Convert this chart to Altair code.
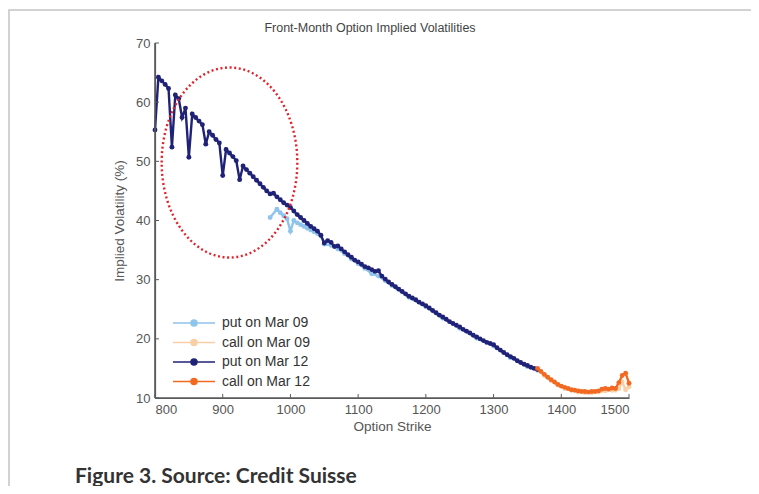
import altair as alt
import pandas as pd

# ---------------- data ----------------
put12_strike = list(range(800, 1370, 5))
put12_vol = [
    55.3, 64.2, 63.6, 63.0, 62.3, 52.4, 61.2, 60.6, 57.4, 59.0,
    50.7, 58.0, 57.4, 56.8, 56.2, 52.9, 55.0, 54.4, 53.7, 53.1,
    47.6, 52.0, 51.4, 50.8, 50.1, 46.9, 49.2, 48.6, 48.0, 47.4,
    46.8, 46.2, 45.6, 45.0, 44.5, 44.6, 44.0, 43.5, 43.0, 42.6,
    42.2, 41.6, 41.0, 40.5, 40.0, 39.5, 39.0, 38.6, 38.2, 37.5,
    36.2, 36.6, 36.3, 35.6, 35.7, 35.2, 34.7, 34.2, 33.8, 33.3,
    33.0, 32.6, 32.2, 32.0, 31.7, 31.4, 31.5, 30.6, 30.1, 29.6,
    29.2, 28.8, 28.4, 28.0, 27.6, 27.2, 26.9, 26.6, 26.2, 25.9,
    25.6, 25.2, 24.8, 24.4, 24.0, 23.7, 23.3, 22.9, 22.6, 22.3,
    22.0, 21.6, 21.3, 21.0, 20.6, 20.3, 20.0, 19.7, 19.4, 19.2,
    19.0, 18.5, 18.1, 17.7, 17.3, 17.0, 16.7, 16.3, 16.0, 15.7,
    15.5, 15.2, 15.0, 14.8,
]

call12_strike = list(range(1365, 1505, 5))
call12_vol = [
    15.0, 14.5, 14.0, 13.5, 13.1, 12.7, 12.3, 12.0, 11.8, 11.6,
    11.4, 11.3, 11.2, 11.1, 11.1, 11.0, 11.1, 11.1, 11.2, 11.5,
    11.6, 11.5, 11.7, 11.6, 12.6, 13.8, 14.2, 12.5,
]

put09_strike = [970, 980, 985, 990, 995, 1000, 1005, 1010, 1015, 1020,
                1025, 1030, 1035, 1040, 1045, 1050, 1060, 1070, 1080, 1090,
                1100, 1110, 1120, 1130, 1140, 1150, 1175, 1200, 1225, 1250,
                1275, 1300, 1325, 1350, 1365]
put09_vol = [40.5, 41.9, 41.3, 40.8, 40.3, 38.2, 40.0, 39.6, 39.3, 39.0,
             38.7, 38.4, 38.1, 37.8, 37.4, 36.0, 35.8, 35.2, 34.4, 33.5,
             32.7, 31.9, 31.0, 30.6, 29.8, 29.0, 27.0, 25.4, 23.5, 21.8,
             20.1, 18.8, 16.8, 15.3, 14.7]

call09_strike = [1365, 1375, 1385, 1395, 1405, 1415, 1425, 1435, 1445, 1455,
                 1465, 1475, 1480, 1485, 1490, 1495, 1500]
call09_vol = [14.8, 13.8, 12.9, 12.2, 11.6, 11.3, 11.0, 10.9, 10.9, 11.0,
              11.2, 11.3, 11.3, 11.6, 12.7, 11.4, 11.9]

series_names = ["put on Mar 09", "call on Mar 09", "put on Mar 12", "call on Mar 12"]
series_colors = ["#8fc4ec", "#f8cfa6", "#1f2277", "#f26a22"]

x_domain = [800, 1500]
y_domain = [10, 70]
x_ticks = [800, 900, 1000, 1100, 1200, 1300, 1400, 1500]
y_ticks = [10, 20, 30, 40, 50, 60, 70]

ellipse_strike = [910]
ellipse_vol = [49.8]

title_text = ["Front-Month Option Implied Volatilities"]
caption_text = ["Figure 3. Source: Credit Suisse"]

# ---------------- build tables ----------------
def frame(name, xs, ys):
    return pd.DataFrame({"strike": xs, "vol": ys, "series": name})

tables = [
    frame(series_names[0], put09_strike, put09_vol),
    frame(series_names[1], call09_strike, call09_vol),
    frame(series_names[2], put12_strike, put12_vol),
    frame(series_names[3], call12_strike, call12_vol),
]

FONT = "Liberation Sans"
TXT = "#444444"
AXC = "#5a5a5a"

x_scale = alt.Scale(domain=x_domain, nice=False, zero=False)
y_scale = alt.Scale(domain=y_domain, nice=False, zero=False)
color_scale = alt.Scale(domain=series_names, range=series_colors)

X_AXIS = alt.Axis(title="Option Strike", values=x_ticks, format="d", tickSize=0,
                  labelPadding=5, titlePadding=3, domain=True)
Y_AXIS = alt.Axis(title="Implied Volatility (%)", values=y_ticks, format="d",
                  tickSize=0, labelPadding=5, titlePadding=9, domain=True)


def xenc(field="strike:Q"):
    return alt.X(field, scale=x_scale, axis=X_AXIS)


def yenc(field="vol:Q"):
    return alt.Y(field, scale=y_scale, axis=Y_AXIS)


legend_path = ("M-1,0L1,0M-0.14,0A0.14,0.14 0 1,0 0.14,0"
               "A0.14,0.14 0 1,0 -0.14,0Z")
LEGEND = alt.Legend(
    title=None, orient="none", legendX=17, legendY=272,
    symbolType=legend_path, symbolSize=1764, symbolStrokeWidth=1.6,
    clipHeight=16, rowPadding=3.5,
    labelFont=FONT, labelFontSize=14, labelColor="#333",
    labelOffset=6, padding=0,
)

layers = []
for t in tables:
    base = alt.Chart(t).encode(
        x=xenc(), y=yenc(),
        color=alt.Color("series:N", scale=color_scale, legend=LEGEND),
    )
    layers.append(base.mark_line(strokeWidth=2.4))
    layers.append(base.mark_point(filled=True, size=24, opacity=1))

# axis lines (left and bottom only), drawn through the scales
x_axis_line = alt.Chart(pd.DataFrame({"strike": [x_domain[0]], "strike2": [x_domain[1]],
                                      "vol": [y_domain[0]]})).mark_rule(
    color=AXC, strokeWidth=1.6
).encode(x=xenc(), x2="strike2:Q", y=yenc())
y_axis_line = alt.Chart(pd.DataFrame({"strike": [x_domain[0]], "vol": [y_domain[0]],
                                      "vol2": [y_domain[1]]})).mark_rule(
    color=AXC, strokeWidth=1.6
).encode(x=xenc(), y=yenc(), y2="vol2:Q")

# inward tick marks (matlab style), placed through the scales
x_tick_marks = alt.Chart(pd.DataFrame({"strike": x_ticks})).mark_rule(
    color=AXC, strokeWidth=1
).encode(x=xenc(), y=alt.value(351), y2=alt.value(355))
y_tick_marks = alt.Chart(pd.DataFrame({"vol": y_ticks})).mark_rule(
    color=AXC, strokeWidth=1
).encode(y=yenc(), x=alt.value(0), x2=alt.value(4))

ellipse = alt.Chart(pd.DataFrame({"strike": ellipse_strike, "vol": ellipse_vol})).mark_point(
    shape="M-0.714,0A0.714,1 0 1,1 0.714,0A0.714,1 0 1,1 -0.714,0Z",
    size=36100, filled=False, stroke="#e3232b", strokeWidth=2.4,
    strokeDash=[2, 2.6], opacity=1,
).encode(x=xenc(), y=yenc())

title = alt.Chart(pd.DataFrame({"c": title_text})).mark_text(
    align="center", baseline="middle", font=FONT, fontSize=12.5, color=TXT,
).encode(x=alt.value(215), y=alt.value(-15), text="c:N")

caption = alt.Chart(pd.DataFrame({"c": caption_text})).mark_text(
    align="left", baseline="middle", font="Lato", fontSize=21, fontWeight="bold",
    color="#333333",
).encode(x=alt.value(-80), y=alt.value(434), text="c:N")

border = alt.Chart(pd.DataFrame({"c": caption_text})).mark_rect(
    fillOpacity=0, stroke="#c4c4c4", strokeWidth=1.5,
).encode(x=alt.value(-146), x2=alt.value(597), y=alt.value(-33), y2=alt.value(470))

chart = alt.layer(
    border, *layers, x_axis_line, y_axis_line, x_tick_marks, y_tick_marks,
    ellipse, title, caption,
).properties(
    width=474, height=355,
    autosize=alt.AutoSizeParams(type="none"),
    padding={"left": 147, "top": 35, "right": 122, "bottom": 88},
).configure_view(stroke=None).configure_axis(
    grid=False, domainColor=AXC, domainWidth=1.2, tickColor=AXC,
    labelFont=FONT, labelFontSize=13, labelColor="#555",
    titleFont=FONT, titleFontSize=13.5, titleColor="#555", titleFontWeight="normal",
)

chart.save("out.html", embed_options={"renderer": "svg", "actions": False})
